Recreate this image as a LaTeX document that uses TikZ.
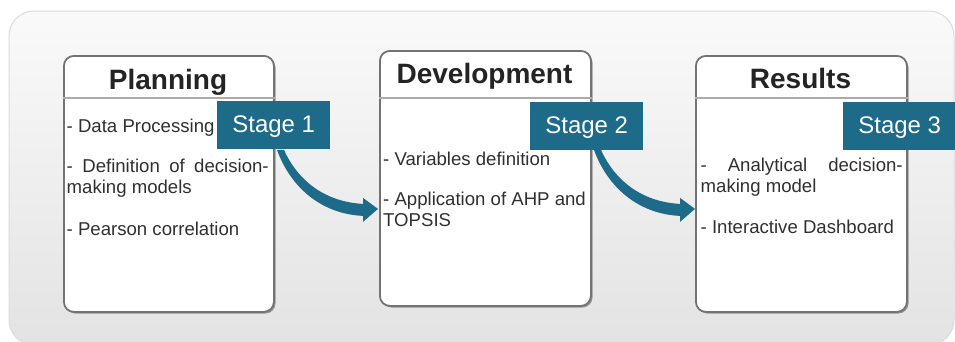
\documentclass[tikz,border=0pt]{standalone}
\usepackage{fontspec}
\setmainfont{Liberation Sans}
\usetikzlibrary{calc}
\definecolor{stageblue}{RGB}{29,106,137}
\definecolor{boxline}{RGB}{115,115,115}
\definecolor{txt}{RGB}{48,48,48}
\tikzset{
  panel/.style={draw=black!14, line width=1pt, rounded corners=25pt, top color=black!2, bottom color=black!11},
  card/.style={draw=boxline, line width=1.8pt, fill=white, rounded corners=10pt, inner sep=0, anchor=north west},
  cardshadow/.style={fill=black!42, rounded corners=10pt},
  sep/.style={draw=black!33, line width=1.5pt},
  title/.style={font=\fontsize{28}{30}\selectfont\bfseries, text=black!86, anchor=base, inner sep=0},
  item/.style={font=\fontsize{18.6}{21}\selectfont, text=txt, anchor=base west, inner sep=0},
  stage/.style={fill=stageblue, text=white, font=\fontsize{24}{26}\selectfont, minimum width=113pt, minimum height=48pt, inner sep=0, text height=17.2pt, text depth=2pt, anchor=north west},
  flow/.style={fill=stageblue}
}
\newcommand{\flowshape}{(-101,-59) .. controls (-88,-23) and (-58,5) .. (-15,7) -- (-15,13) -- (0,0) -- (-15,-11) -- (-15,-5) .. controls (-53,-7) and (-80,-28) .. (-94,-59) -- cycle}
\begin{document}
\begin{tikzpicture}[x=1pt,y=-1pt]
\useasboundingbox (0,0) rectangle (955,341);
\begin{scope}
\clip (0,0) rectangle (955,341);
\path[panel] (9,11) rectangle (954,345);

% shadows
\fill[cardshadow] (65.5,57.5) rectangle (275.5,313.5);
\fill[cardshadow] (381.5,52.5) rectangle (592.5,307.5);
\fill[cardshadow] (697.5,57.5) rectangle (908.5,313.5);

% cards
\node[card, minimum width=210pt, minimum height=256pt] (plan) at (63,55) {};
\node[card, minimum width=211pt, minimum height=255pt] (dev) at (379,50) {};
\node[card, minimum width=211pt, minimum height=256pt] (res) at (695,55) {};

% header separators
\draw[sep] (plan.west |- 0,98) -- (plan.east |- 0,98);
\draw[sep] (dev.west |- 0,98) -- (dev.east |- 0,98);
\draw[sep] (res.west |- 0,98) -- (res.east |- 0,98);

% titles
\node[title] (tplan) at (168,89) {Planning};
\node[title] (tdev) at (484.5,83.5) {Development};
\node[title] (tres) at (800.5,88.5) {Results};

% items
\node[item] (p1) at (66.5,132.7) {- Data Processing};
\node[item] (p2) at (66.5,172.7) {\makebox[202pt][s]{- Definition of decision-}};
\node[item] (p3) at (66.5,193.7) {making models};
\node[item] (p4) at (66.5,235) {- Pearson correlation};

\node[item] (d1) at (383,165) {- Variables definition};
\node[item] (d2) at (383,205.5) {- Application of AHP and};
\node[item] (d3) at (383,226.5) {TOPSIS};

\node[item] (r1) at (700.5,171.7) {\makebox[202pt][s]{- Analytical decision-}};
\node[item] (r2) at (700.5,192.7) {making model};
\node[item] (r3) at (700.5,233.7) {- Interactive Dashboard};

% stage labels
\node[stage] (s1) at (217,101) {Stage 1};
\node[stage] (s2) at (530,102) {Stage 2};
\node[stage] (s3) at (843,102) {Stage 3};

% flow arrows from stage labels to next cards
\fill[flow, shift={($(dev.west)+(-1,30.5)$)}] \flowshape;
\fill[flow, shift={($(res.west)+(0,25)$)}] \flowshape;
\end{scope}
\end{tikzpicture}
\end{document}
